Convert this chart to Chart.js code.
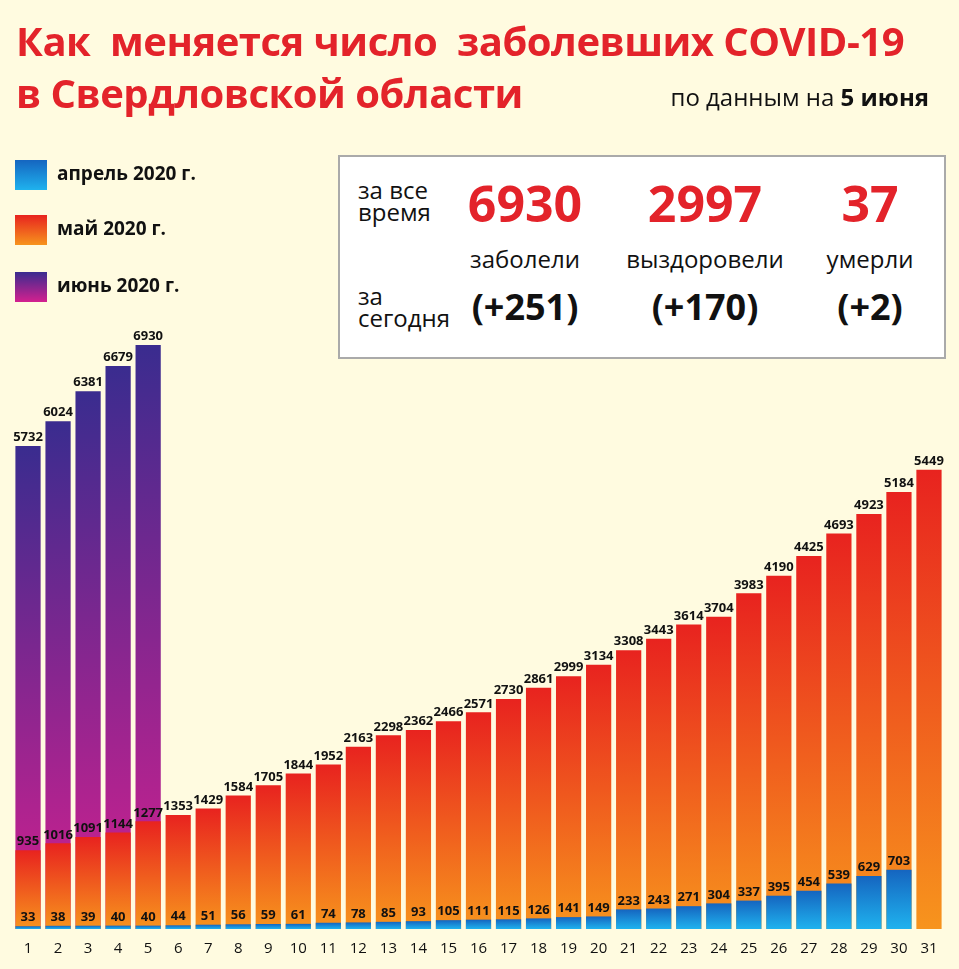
<!DOCTYPE html>
<html>
<head>
<meta charset="utf-8">
<title>COVID-19 Свердловская область</title>
<script src="https://cdn.jsdelivr.net/npm/chart.js"></script>
<style>
  body { margin: 0; background: #fffbe0; font-family: "Open Sans", "Noto Sans", sans-serif; }
  #wrap { position: relative; width: 959px; height: 969px; overflow: hidden; }
  #c { position: absolute; left: 0; top: 0; }
  .t { position: absolute; font-weight: bold; color: #e3232a; font-size: 40px; line-height: 46px; left: 16px; letter-spacing: -0.5px; }
  .sub { position: absolute; right: 30px; top: 80px; font-size: 24px; color: #111; }
  .leg { position: absolute; left: 15px; font-size: 19px; font-weight: bold; color: #111; }
  .leg span { display: inline-block; width: 32px; height: 30px; vertical-align: middle; margin-right: 10px; }
  #box { position: absolute; left: 338px; top: 155px; width: 604px; height: 200px; border: 2px solid #aaa; background: #fff; }
  .bx { position: absolute; text-align: center; }
  .big { font-size: 50px; font-weight: bold; color: #e3232a; }
  .mid { font-size: 24px; color: #111; }
  .par { font-size: 36px; font-weight: bold; color: #111; }
</style>
</head>
<body>
<div id="wrap">
  <canvas id="c" width="959" height="969"></canvas>
  <div class="t" style="top:18px">Как&nbsp; меняется число&nbsp; заболевших COVID-19</div>
  <div class="t" style="top:70px">в Свердловской области</div>
  <div class="sub">по данным на <b>5 июня</b></div>
  <div class="leg" style="top:160px"><span style="background:linear-gradient(#1565c0,#1fb2ee)"></span>апрель 2020 г.</div>
  <div class="leg" style="top:215px"><span style="background:linear-gradient(#e8231f,#f7941d)"></span>май 2020 г.</div>
  <div class="leg" style="top:272px"><span style="background:linear-gradient(#3a2c8f,#d4208f)"></span>июнь 2020 г.</div>
  <div id="box">
    <div class="bx mid" style="left:18px;top:22px;line-height:22px;text-align:left">за все<br>время</div>
    <div class="bx mid" style="left:18px;top:128px;line-height:22px;text-align:left">за<br>сегодня</div>
    <div class="bx big" style="left:125px;top:12px;width:120px">6930</div>
    <div class="bx big" style="left:290px;top:12px;width:150px">2997</div>
    <div class="bx big" style="left:470px;top:12px;width:120px">37</div>
    <div class="bx mid" style="left:115px;top:85px;width:140px">заболели</div>
    <div class="bx mid" style="left:280px;top:85px;width:170px">выздоровели</div>
    <div class="bx mid" style="left:470px;top:85px;width:120px">умерли</div>
    <div class="bx par" style="left:115px;top:125px;width:140px">(+251)</div>
    <div class="bx par" style="left:290px;top:125px;width:150px">(+170)</div>
    <div class="bx par" style="left:470px;top:125px;width:120px">(+2)</div>
  </div>
</div>
<script>
  // days of month
  const days = Array.from({ length: 31 }, (_, i) => String(i + 1));
  const april = [33, 38, 39, 40, 40, 44, 51, 56, 59, 61, 74, 78, 85, 93, 105, 111, 115, 126, 141, 149,
                 233, 243, 271, 304, 337, 395, 454, 539, 629, 703, null];
  const may = [935, 1016, 1091, 1144, 1277, 1353, 1429, 1584, 1705, 1844, 1952, 2163, 2298, 2362, 2466, 2571,
               2730, 2861, 2999, 3134, 3308, 3443, 3614, 3704, 3983, 4190, 4425, 4693, 4923, 5184, 5449];
  const june = [5732, 6024, 6381, 6679, 6930];

  // vertical gradient per bar, from its base to its top
  function barGrad(bottomCol, topCol) {
    return function (ctx) {
      const chart = ctx.chart;
      if (!chart.chartArea || ctx.parsed == null || ctx.parsed.y == null) return bottomCol;
      const y = chart.scales.y;
      const top = y.getPixelForValue(ctx.parsed.y);
      const base = y.getPixelForValue(0);
      if (base - top < 1) return bottomCol;
      const g = chart.ctx.createLinearGradient(0, base, 0, top);
      g.addColorStop(0, bottomCol);
      g.addColorStop(1, topCol);
      return g;
    };
  }

  // value labels above each bar
  const labelPlugin = {
    id: 'labels',
    afterDatasetsDraw(chart) {
      const ctx = chart.ctx;
      ctx.save();
      ctx.fillStyle = '#111';
      ctx.font = 'bold 13px "Liberation Sans Narrow", "Open Sans", sans-serif';
      ctx.textAlign = 'center';
      ctx.textBaseline = 'bottom';
      chart.data.datasets.forEach((ds, i) => {
        chart.getDatasetMeta(i).data.forEach((bar, j) => {
          const v = ds.data[j];
          if (v == null) return;
          ctx.fillText(v, bar.x, bar.y - 2);
        });
      });
      ctx.restore();
    }
  };

  new Chart(document.getElementById('c'), {
    type: 'bar',
    data: {
      labels: days,
      datasets: [
        { label: 'апрель 2020 г.', data: april, backgroundColor: barGrad('#1fb2ee', '#1565c0'), order: 1 },
        { label: 'май 2020 г.', data: may, backgroundColor: barGrad('#f7941d', '#e8231f'), order: 2 },
        { label: 'июнь 2020 г.', data: june, backgroundColor: barGrad('#d4208f', '#3a2c8f'), order: 3 }
      ]
    },
    options: {
      responsive: false,
      animation: false,
      layout: { padding: { left: 13, right: 15, top: 100, bottom: 8 } },
      datasets: { bar: { grouped: false, barPercentage: 0.84, categoryPercentage: 1 } },
      plugins: { legend: { display: false }, tooltip: { enabled: false } },
      scales: {
        x: {
          grid: { display: false },
          border: { display: false },
          ticks: { color: '#111', font: { size: 15, family: '"Open Sans", sans-serif' }, maxRotation: 0, autoSkip: false }
        },
        y: { display: false, min: 0, max: 9836 }
      }
    },
    plugins: [labelPlugin]
  });
</script>
</body>
</html>
